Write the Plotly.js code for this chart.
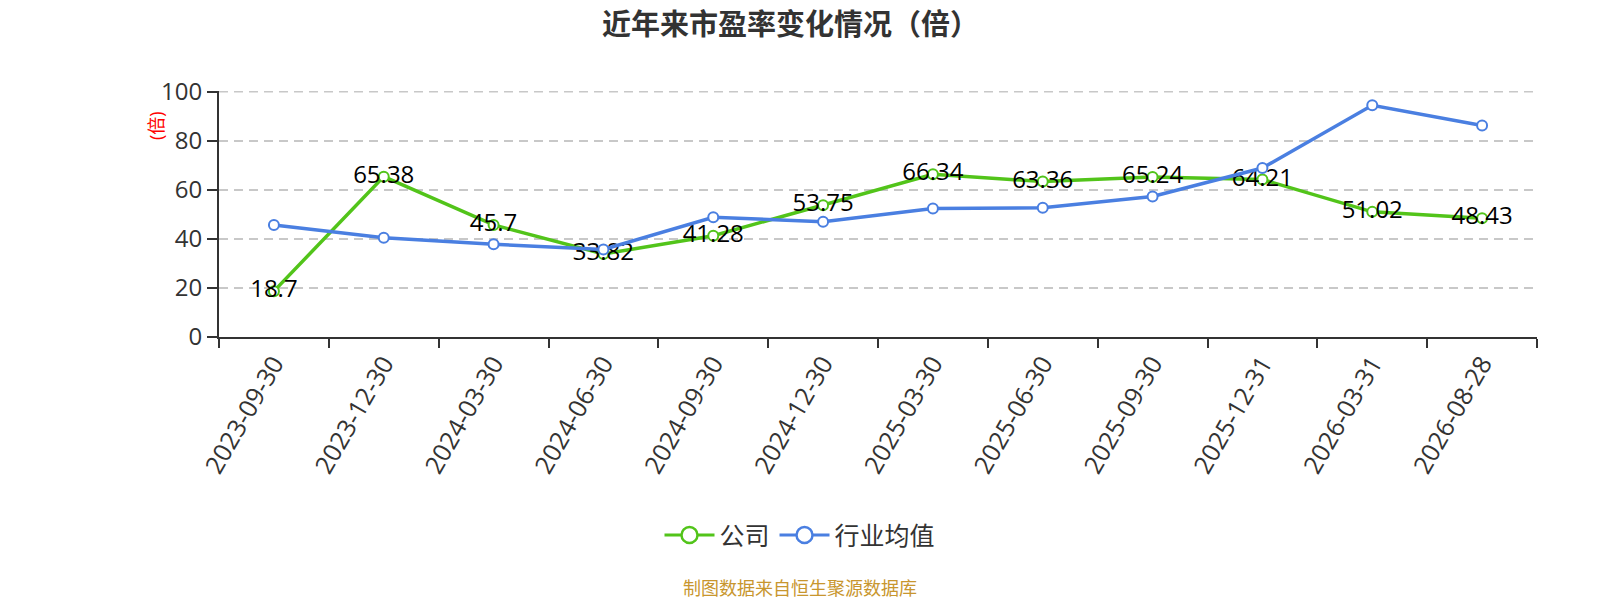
<!DOCTYPE html>
<html>
<head>
<meta charset="utf-8">
<script src="https://cdn.plot.ly/plotly-3.0.1.min.js"></script>
<style>
  html, body { margin: 0; padding: 0; background: #fff; }
  #chart { width: 1600px; height: 600px; }
</style>
</head>
<body>
<div id="chart"></div>
<script>
// 数据
const categories = ['2023-09-30', '2023-12-30', '2024-03-30', '2024-06-30', '2024-09-30', '2024-12-30',
                    '2025-03-30', '2025-06-30', '2025-09-30', '2025-12-31', '2026-03-31', '2026-08-28'];
const companyPE = [18.7, 65.38, 45.7, 33.82, 41.28, 53.75, 66.34, 63.36, 65.24, 64.21, 51.02, 48.43];
const industryPE = [45.7, 40.5, 37.8, 35.7, 48.8, 47.0, 52.4, 52.7, 57.3, 68.9, 94.5, 86.2];

const GREEN = '#52c41a';
const BLUE = '#4a7fe1';
const FONT = "'Open Sans', 'Noto Sans CJK SC', sans-serif";

const traces = [
    {
        x: categories, y: companyPE, type: 'scatter', mode: 'lines+markers+text',
        name: '公司', showlegend: false,
        text: companyPE.map(v => String(v)), textposition: 'middle center',
        textfont: { family: FONT, size: 24, color: '#000' },
        line: { color: GREEN, width: 3.5 },
        marker: { size: 10, color: '#fff', line: { color: GREEN, width: 2 } }
    },
    {
        x: categories, y: industryPE, type: 'scatter', mode: 'lines+markers',
        name: '行业均值', showlegend: false,
        line: { color: BLUE, width: 3.5 },
        marker: { size: 10, color: '#fff', line: { color: BLUE, width: 2 } }
    },
    // 图例用
    {
        x: [null], y: [null], type: 'scatter', mode: 'lines+markers', name: '公司',
        line: { color: GREEN, width: 3 },
        marker: { size: 22, color: '#fff', line: { color: GREEN, width: 2.5 } }
    },
    {
        x: [null], y: [null], type: 'scatter', mode: 'lines+markers', name: '行业均值',
        line: { color: BLUE, width: 3 },
        marker: { size: 22, color: '#fff', line: { color: BLUE, width: 2.5 } }
    }
];

const layout = {
    width: 1600, height: 600,
    margin: { l: 219, r: 63, t: 91, b: 263 },
    paper_bgcolor: '#fff', plot_bgcolor: '#fff',
    font: { family: FONT, color: '#333' },
    title: {
        text: '<b>近年来市盈率变化情况（倍）</b>',
        font: { family: FONT, size: 29, color: '#333' },
        xref: 'container', x: 0.494, xanchor: 'center',
        yref: 'container', y: 0.958, yanchor: 'middle'
    },
    xaxis: {
        type: 'category', tickson: 'boundaries', range: [-0.5, 11.5],
        tickangle: -60, ticks: 'outside', ticklen: 9, tickwidth: 2, tickcolor: '#333',
        showline: true, linecolor: '#333', linewidth: 2,
        showgrid: false, zeroline: false,
        tickfont: { family: FONT, size: 25, color: '#333' }
    },
    yaxis: {
        range: [0, 100.3], tickvals: [0, 20, 40, 60, 80, 100],
        ticks: 'outside', ticklen: 10, tickwidth: 2, tickcolor: '#333',
        showline: true, linecolor: '#333', linewidth: 2,
        showgrid: true, gridcolor: '#c8c8c8', griddash: '9px,6px', gridwidth: 1.5,
        zeroline: false,
        tickfont: { family: FONT, size: 24, color: '#333' }
    },
    // 顶部 100 的虚线网格
    shapes: [
        {
            type: 'line', xref: 'paper', yref: 'y', x0: 0, x1: 1, y0: 100, y1: 100,
            layer: 'below', line: { color: '#c8c8c8', width: 1.5, dash: '9px,6px' }
        }
    ],
    showlegend: true,
    legend: {
        orientation: 'h', xref: 'container', x: 0.5, xanchor: 'center',
        yref: 'container', y: 0.108, yanchor: 'middle',
        font: { family: FONT, size: 25, color: '#333' },
        itemwidth: 50
    },
    annotations: [
        {
            text: '(倍)', textangle: -90, showarrow: false,
            xref: 'paper', yref: 'paper', x: -0.0478, y: 0.862,
            xanchor: 'center', yanchor: 'middle',
            font: { family: FONT, size: 18, color: '#ff0000' }
        },
        {
            text: '制图数据来自恒生聚源数据库', showarrow: false,
            xref: 'paper', yref: 'paper', x: 0.4408, y: -1.02,
            xanchor: 'center', yanchor: 'middle',
            font: { family: FONT, size: 18, color: '#c8962e' }
        }
    ],
    hovermode: false
};

Plotly.newPlot('chart', traces, layout, { staticPlot: true });
</script>
</body>
</html>
